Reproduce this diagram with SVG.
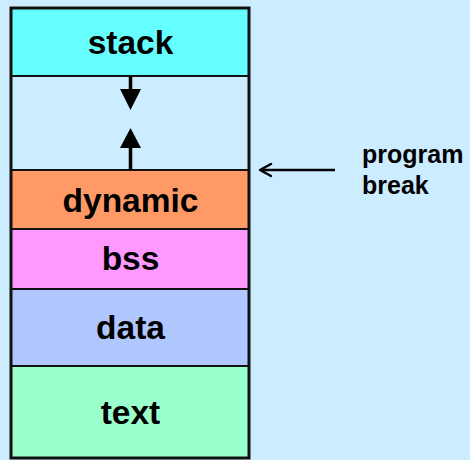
<svg xmlns="http://www.w3.org/2000/svg" width="470" height="460" viewBox="0 0 470 460">
<style>
.lbl{font-family:"Liberation Sans",Arial,sans-serif;font-weight:bold;font-size:33.5px;fill:#000;text-anchor:middle}
.note{font-family:"Liberation Sans",Arial,sans-serif;font-weight:bold;font-size:25px;fill:#000}
.seg{stroke:#111;stroke-width:2}
</style>
<rect width="470" height="460" fill="#CCECFF"/>
<g id="stack"><rect class="seg" x="11" y="8" width="238" height="68" fill="#66FFFF"/><text class="lbl" x="130.5" y="54">stack</text></g>
<g id="free"><rect class="seg" x="11" y="76" width="238" height="94" fill="#CCECFF"/></g>
<g id="dynamic"><rect class="seg" x="11" y="170" width="238" height="59" fill="#FF9966"/><text class="lbl" x="130.5" y="212">dynamic</text></g>
<g id="bss"><rect class="seg" x="11" y="229" width="238" height="60" fill="#FF99FF"/><text class="lbl" x="130.5" y="270">bss</text></g>
<g id="data"><rect class="seg" x="11" y="289" width="238" height="77" fill="#AFC6FF"/><text class="lbl" x="130.5" y="339">data</text></g>
<g id="text"><rect class="seg" x="11" y="366" width="238" height="92" fill="#99FFCC"/><text class="lbl" x="130.5" y="424">text</text></g>
<rect x="11" y="8" width="238" height="450" fill="none" stroke="#111" stroke-width="3"/>
<g id="program-break"><text class="note" x="362" y="163">program</text><text class="note" x="362" y="194">break</text></g>
<g id="connectors">
<line x1="130.5" y1="76" x2="130.5" y2="90" stroke="#000" stroke-width="3.5"/>
<path d="M120,89 L141,89 L130.5,110 Z" fill="#000"/>
<line x1="130.5" y1="170" x2="130.5" y2="147" stroke="#000" stroke-width="3.5"/>
<path d="M120,148 L141,148 L130.5,128 Z" fill="#000"/>
<line x1="335" y1="170" x2="261" y2="170" stroke="#000" stroke-width="2.5"/>
<polyline points="271,164 260,170 271,176" fill="none" stroke="#000" stroke-width="2.5" stroke-linecap="round" stroke-linejoin="round"/>
</g>
</svg>
